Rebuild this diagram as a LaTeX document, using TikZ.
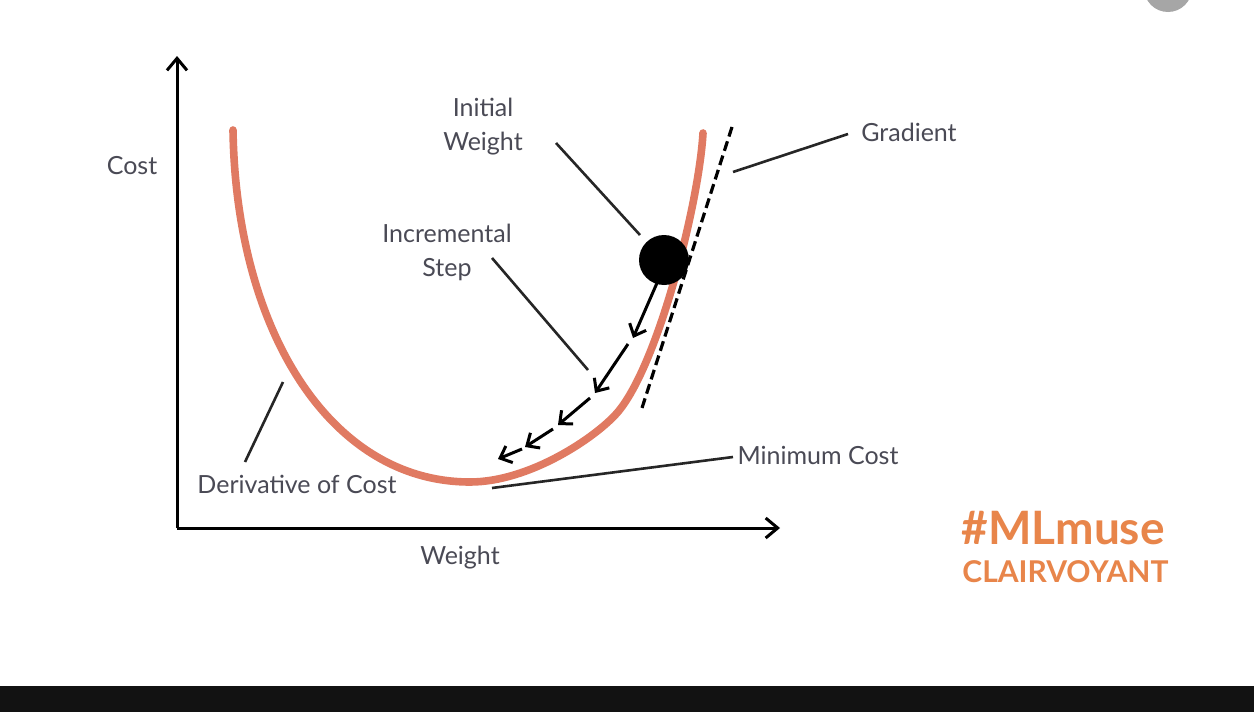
\documentclass[tikz,border=0pt]{standalone}
\usepackage{fontspec}
\setmainfont{Lato}
\usetikzlibrary{arrows.meta}
\definecolor{curvec}{HTML}{E07A62}
\definecolor{labc}{HTML}{4A4A55}
\definecolor{brandc}{HTML}{E8854A}
\begin{document}
\begin{tikzpicture}[x=0.5pt,y=-0.5pt,
  lab/.style={text=labc,font=\fontsize{12.5}{15}\selectfont,inner sep=0pt,align=center},
  leader/.style={draw=black!85,line width=1.3pt},
  axis/.style={line width=1.5pt,-{Straight Barb[length=6pt,width=10pt,line width=1.5pt]}},
  stepar/.style={line width=1.5pt,-{Straight Barb[length=5pt,width=9pt,line width=1.5pt]}}]
\useasboundingbox (0,0) rectangle (1254,712);
\fill[white] (0,0) rectangle (1254,712);
\fill[black!93] (0,686) rectangle (1254,712);
\fill[black!35] (1168,-12) circle (24);
% axes
\coordinate (o) at (177,528);
\coordinate (ytop) at (177,56);
\coordinate (xend) at (780,528);
\draw[axis] (o) -- (ytop);
\draw[axis] (o) -- (xend);
% curve
\coordinate (ctop1) at (233,130);
\coordinate (cmin) at (470,482);
\coordinate (cmid) at (617,413);
\coordinate (ctop2) at (703,133);
\draw[curvec,line width=3.8pt,line cap=round]
  (ctop1) .. controls (236,330) and (330,482) .. (cmin)
          .. controls (530,482) and (596,437) .. (cmid)
          .. controls (658,366) and (699,203) .. (ctop2);
% tangent
\coordinate (t1) at (732,127);
\coordinate (t2) at (642,408);
\draw[line width=1.6pt,dash pattern=on 5pt off 2.5pt] (t1) -- (t2);
% ball
\node[circle,fill=black,minimum size=25pt,inner sep=0pt] (ball) at (664,260) {};
% steps
\coordinate (s1) at (657,283);
\coordinate (e1) at (633,338);
\coordinate (s2) at (628,344);
\coordinate (e2) at (595,393);
\coordinate (s3) at (590,398);
\coordinate (e3) at (558,425);
\coordinate (s4) at (553,429);
\coordinate (e4) at (525,447);
\coordinate (s5) at (522,449);
\coordinate (e5) at (498,459);
\draw[stepar] (s1) -- (e1);
\draw[stepar] (s2) -- (e2);
\draw[stepar] (s3) -- (e3);
\draw[stepar] (s4) -- (e4);
\draw[stepar] (s5) -- (e5);
% labels
\node[lab] (cost) at (132,166) {Cost};
\node[lab] (weight) at (460,558) {Weight};
\node[lab] (init) at (483,127) {Initial\\[2pt]Weight};
\node[lab] (incr) at (447,252) {Incremental\\[2pt]Step};
\node[lab] (grad) at (909,132) {Gradient};
\node[lab] (minc) at (818,455) {Minimum Cost};
\node[lab] (deriv) at (297,484) {Derivative of Cost};
% leaders
\coordinate (l1a) at (556,143); \coordinate (l1b) at (640,235);
\coordinate (l2a) at (492,258); \coordinate (l2b) at (588,370);
\coordinate (l3a) at (848,134); \coordinate (l3b) at (733,172);
\coordinate (l4a) at (733,457); \coordinate (l4b) at (492,488);
\coordinate (l5a) at (283,382); \coordinate (l5b) at (245,462);
\draw[leader] (l1a) -- (l1b);
\draw[leader] (l2a) -- (l2b);
\draw[leader] (l3a) -- (l3b);
\draw[leader] (l4a) -- (l4b);
\draw[leader] (l5a) -- (l5b);
% brand
\node[text=brandc,font=\bfseries\fontsize{23}{26}\selectfont,inner sep=0pt,anchor=west] (ml) at (961,528) {\#MLmuse};
\node[text=brandc,font=\bfseries\fontsize{15}{18}\selectfont,inner sep=0pt,anchor=west] (cv) at (962,572) {CLAIRVOYANT};
\end{tikzpicture}
\end{document}
